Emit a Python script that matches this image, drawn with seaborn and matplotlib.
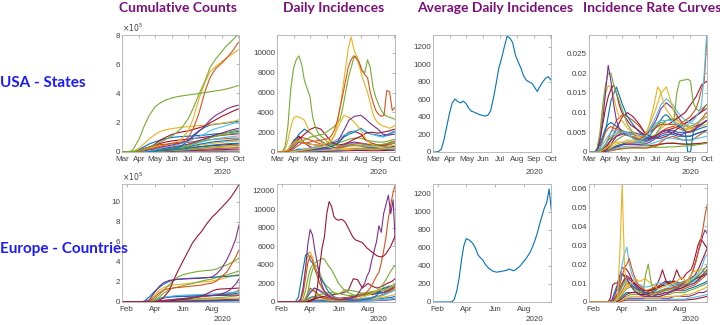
import numpy as np
import pandas as pd
import matplotlib
matplotlib.use('Agg')
import matplotlib.pyplot as plt
import matplotlib.dates as mdates
from matplotlib.ticker import FuncFormatter
import seaborn as sns

# MATLAB default line colours
C = {'b': '#0072BD', 'o': '#D95319', 'y': '#EDB120', 'p': '#7E2F8E',
     'g': '#77AC30', 'c': '#4DBEEE', 'r': '#A2142F'}

# ---------------- date grids ----------------
us_dates = pd.to_datetime(['2020-03-01', '2020-03-10', '2020-03-20', '2020-04-01', '2020-04-10', '2020-04-20',
                           '2020-05-01', '2020-05-10', '2020-05-20', '2020-06-01', '2020-06-10', '2020-06-20',
                           '2020-07-01', '2020-07-10', '2020-07-20', '2020-08-01', '2020-08-10', '2020-08-20',
                           '2020-09-01', '2020-09-10', '2020-09-20', '2020-10-01'])
us_dates5 = pd.date_range('2020-03-01', periods=44, freq='5D')
eu_dates = pd.to_datetime(['2020-01-22', '2020-02-01', '2020-02-10', '2020-02-20', '2020-03-01', '2020-03-10',
                           '2020-03-20', '2020-04-01', '2020-04-10', '2020-04-20', '2020-05-01', '2020-05-10',
                           '2020-05-20', '2020-06-01', '2020-06-10', '2020-06-20', '2020-07-01', '2020-07-10',
                           '2020-07-20', '2020-08-01', '2020-08-10', '2020-08-20', '2020-09-01', '2020-09-10',
                           '2020-09-20', '2020-09-27'])
eu_dates5 = pd.date_range('2020-01-22', periods=51, freq='5D')

# ---------------- USA cumulative counts (x 1e5) ----------------
usc_ca = [0, 0, 0.01, 0.09, 0.2, 0.33, 0.5, 0.67, 0.85, 1.1, 1.35, 1.7, 2.3, 3.0, 3.9, 4.9, 5.8, 6.35, 6.9, 7.3, 7.65, 8.05]
usc_ny = [0, 0.002, 0.1, 0.85, 1.7, 2.5, 3.1, 3.35, 3.55, 3.7, 3.78, 3.84, 3.9, 3.95, 4.0, 4.07, 4.12, 4.18, 4.25, 4.32, 4.42, 4.55]
usc_tx = [0, 0, 0.01, 0.04, 0.11, 0.2, 0.29, 0.38, 0.5, 0.6, 0.65, 0.7, 1.0, 1.6, 2.6, 4.2, 5.1, 5.7, 6.1, 6.45, 6.9, 7.5]
usc_fl = [0, 0, 0.01, 0.07, 0.16, 0.27, 0.35, 0.42, 0.48, 0.57, 0.7, 0.95, 1.45, 2.3, 3.6, 4.8, 5.5, 5.85, 6.2, 6.45, 6.7, 7.0]
usc_nj = [0, 0, 0.02, 0.25, 0.55, 0.9, 1.2, 1.4, 1.52, 1.6, 1.65, 1.7, 1.73, 1.76, 1.8, 1.84, 1.88, 1.92, 1.97, 2.02, 2.08, 2.2]
usc_ga = [0, 0, 0, 0.05, 0.1, 0.17, 0.25, 0.32, 0.4, 0.48, 0.56, 0.65, 0.8, 1.05, 1.4, 1.8, 2.2, 2.5, 2.75, 2.95, 3.1, 3.2]
usc_il = [0, 0, 0, 0.05, 0.15, 0.3, 0.55, 0.8, 1.0, 1.2, 1.3, 1.38, 1.45, 1.55, 1.65, 1.8, 2.0, 2.2, 2.45, 2.6, 2.78, 2.95]
usc_s1 = [0, 0, 0, 0.01, 0.05, 0.1, 0.17, 0.25, 0.33, 0.42, 0.5, 0.6, 0.72, 0.88, 1.05, 1.25, 1.45, 1.6, 1.72, 1.83, 1.94, 2.05]
usc_s2 = [0, 0, 0.01, 0.15, 0.35, 0.55, 0.7, 0.8, 0.9, 1.0, 1.03, 1.06, 1.08, 1.1, 1.13, 1.16, 1.2, 1.24, 1.28, 1.32, 1.36, 1.4]
usc_s3 = [0, 0, 0, 0.01, 0.03, 0.05, 0.08, 0.12, 0.16, 0.2, 0.28, 0.45, 0.8, 1.15, 1.45, 1.7, 1.85, 1.9, 1.95, 1.99, 2.04, 2.1]
usc_s4 = [0, 0, 0, 0.03, 0.07, 0.12, 0.17, 0.22, 0.28, 0.34, 0.4, 0.46, 0.54, 0.64, 0.78, 0.92, 1.05, 1.18, 1.3, 1.42, 1.52, 1.62]
usc_s5 = [0, 0, 0, 0.02, 0.05, 0.09, 0.13, 0.18, 0.23, 0.28, 0.33, 0.39, 0.47, 0.57, 0.7, 0.85, 0.98, 1.1, 1.22, 1.32, 1.42, 1.5]
usc_s6 = [0, 0, 0.01, 0.06, 0.2, 0.35, 0.48, 0.58, 0.68, 0.76, 0.8, 0.84, 0.88, 0.92, 0.97, 1.02, 1.06, 1.1, 1.14, 1.18, 1.21, 1.25]
usc_s7 = [0, 0, 0, 0.01, 0.03, 0.06, 0.1, 0.15, 0.2, 0.25, 0.3, 0.35, 0.42, 0.52, 0.63, 0.75, 0.84, 0.9, 0.96, 1.01, 1.06, 1.1]
usc_s8 = [0, 0, 0.01, 0.1, 0.25, 0.33, 0.42, 0.5, 0.53, 0.57, 0.6, 0.63, 0.66, 0.7, 0.75, 0.8, 0.84, 0.87, 0.9, 0.92, 0.94, 0.96]
usc_s9 = [0, 0, 0, 0.02, 0.05, 0.08, 0.11, 0.14, 0.17, 0.2, 0.24, 0.28, 0.33, 0.39, 0.45, 0.52, 0.57, 0.62, 0.66, 0.69, 0.72, 0.75]
usc_s10 = [0, 0, 0, 0.01, 0.03, 0.05, 0.07, 0.09, 0.12, 0.15, 0.18, 0.21, 0.25, 0.3, 0.35, 0.4, 0.45, 0.49, 0.53, 0.56, 0.58, 0.6]
usc_s11 = [0, 0, 0, 0.01, 0.02, 0.04, 0.06, 0.08, 0.1, 0.12, 0.14, 0.16, 0.19, 0.22, 0.26, 0.3, 0.33, 0.36, 0.39, 0.41, 0.43, 0.45]
usc_s12 = [0, 0, 0, 0.01, 0.02, 0.03, 0.04, 0.05, 0.07, 0.08, 0.1, 0.11, 0.13, 0.15, 0.17, 0.2, 0.22, 0.24, 0.26, 0.27, 0.29, 0.3]
usc_s13 = [0, 0, 0, 0, 0.01, 0.02, 0.03, 0.04, 0.05, 0.06, 0.07, 0.08, 0.09, 0.1, 0.12, 0.13, 0.14, 0.15, 0.16, 0.18, 0.19, 0.2]
usc_s14 = [0, 0, 0, 0, 0.01, 0.01, 0.02, 0.02, 0.03, 0.03, 0.04, 0.05, 0.05, 0.06, 0.07, 0.08, 0.08, 0.09, 0.1, 0.11, 0.11, 0.12]
usc_s15 = [0, 0, 0, 0, 0, 0.01, 0.01, 0.01, 0.01, 0.02, 0.02, 0.02, 0.02, 0.03, 0.03, 0.03, 0.04, 0.04, 0.04, 0.05, 0.05, 0.05]
usc_s16 = [0, 0, 0, 0.01, 0.03, 0.06, 0.09, 0.12, 0.15, 0.19, 0.23, 0.28, 0.35, 0.43, 0.52, 0.6, 0.66, 0.71, 0.75, 0.79, 0.82, 0.85]
usc_s17 = [0, 0, 0, 0.02, 0.04, 0.07, 0.1, 0.13, 0.17, 0.21, 0.26, 0.32, 0.42, 0.55, 0.7, 0.86, 0.98, 1.07, 1.15, 1.21, 1.26, 1.3]
usc_s18 = [0, 0, 0, 0.02, 0.06, 0.12, 0.18, 0.22, 0.25, 0.27, 0.28, 0.29, 0.31, 0.33, 0.36, 0.39, 0.42, 0.45, 0.48, 0.5, 0.53, 0.55]
usc_s19 = [0, 0, 0, 0.01, 0.02, 0.03, 0.05, 0.06, 0.08, 0.1, 0.12, 0.14, 0.16, 0.19, 0.22, 0.25, 0.27, 0.29, 0.31, 0.32, 0.34, 0.35]

# ---------------- USA daily incidences ----------------
usd_ny = [0, 0, 50, 600, 2700, 6300, 8400, 9300, 9700, 8800, 7200, 6400, 5600, 3500, 2500, 1900, 1600, 1400, 1100, 900,
          800, 700, 650, 600, 600, 620, 650, 680, 700, 680, 650, 640, 620, 600, 620, 650, 700, 720, 750, 800, 820, 850, 880, 900]
usd_ca = [0, 0, 10, 80, 200, 400, 700, 900, 1100, 1150, 1200, 1300, 1500, 1550, 1600, 1700, 1750, 1800, 2000, 2200,
          2400, 2600, 2900, 3300, 4500, 6000, 7500, 8500, 9500, 9700, 9000, 8200, 8000, 9300, 8500, 6500, 5500, 4800, 4200, 3800,
          3600, 3500, 3400, 3300]
usd_tx = [0, 0, 0, 20, 60, 150, 300, 500, 700, 900, 900, 950, 1000, 1100, 1100, 1150, 1200, 1250, 1300, 1400,
          1700, 2300, 3200, 4500, 5800, 7200, 8600, 9300, 9700, 9400, 9000, 8200, 7800, 7500, 6000, 5000, 4200, 3800, 3600, 3700,
          6200, 6100, 4200, 4500]
usd_fl = [0, 0, 0, 30, 150, 600, 900, 1100, 1100, 1000, 900, 800, 800, 750, 700, 700, 750, 800, 900, 1100,
          1300, 1700, 2800, 4500, 6500, 8500, 10500, 11600, 10400, 9600, 8700, 7600, 6800, 6000, 4900, 3800, 3200, 2900, 2700, 2600,
          2500, 2400, 2500, 2700]
usd_nj = [0, 0, 10, 300, 1200, 2500, 3400, 3600, 3500, 3400, 3200, 2600, 2000, 1700, 1500, 1200, 1000, 800, 600, 500,
          400, 350, 300, 280, 260, 250, 240, 260, 280, 300, 320, 330, 320, 300, 280, 280, 290, 300, 320, 340, 360, 380, 400, 420]
usd_az = [0, 0, 0, 50, 150, 200, 300, 400, 500, 800, 1200, 2500, 3700, 3500, 3000, 2200, 1300, 800, 600, 500, 550, 700]
usd_ga = [0, 0, 20, 500, 1000, 900, 800, 700, 700, 800, 900, 1100, 2200, 3200, 3600, 3700, 3300, 2800, 2300, 1800, 1700, 1800]
usd_il = [0, 0, 50, 700, 1300, 1800, 2300, 2500, 2300, 1500, 900, 700, 800, 1000, 1300, 1600, 1900, 2000, 1900, 2000, 2100, 2300]
usd_ma = [0, 0, 60, 1000, 1800, 2300, 1900, 1500, 1100, 700, 500, 300, 250, 250, 300, 350, 400, 400, 350, 400, 500, 550]
usd_pa = [0, 0, 80, 900, 1500, 1400, 1200, 1000, 800, 600, 500, 450, 500, 700, 800, 850, 800, 750, 700, 750, 900, 1100]
usd_nc = [0, 0, 20, 100, 150, 250, 400, 500, 600, 800, 1000, 1300, 1700, 1900, 2100, 2300, 2100, 1800, 1600, 1500, 1700, 2000]
usd_tn = [0, 0, 10, 150, 300, 250, 300, 350, 400, 500, 600, 900, 1500, 1800, 2000, 2400, 2000, 1800, 1700, 1600, 1800, 2100]
usd_la = [0, 0, 100, 1200, 1600, 900, 500, 400, 400, 500, 600, 900, 1600, 2000, 2100, 1800, 1200, 900, 700, 600, 500, 550]
usd_s1 = [0, 0, 0, 100, 200, 300, 400, 500, 600, 700, 800, 900, 1100, 1300, 1400, 1400, 1200, 1100, 1000, 1000, 1100, 1300]
usd_s2 = [0, 0, 0, 50, 100, 150, 200, 250, 300, 350, 400, 500, 700, 900, 1000, 900, 800, 700, 650, 700, 800, 900]
usd_s3 = [0, 0, 0, 50, 100, 150, 200, 200, 200, 250, 300, 400, 600, 800, 900, 800, 700, 600, 600, 700, 900, 1100]
usd_s4 = [0, 0, 0, 30, 60, 100, 150, 200, 250, 300, 350, 400, 500, 600, 650, 600, 500, 450, 500, 600, 700, 900]
usd_s5 = [0, 0, 0, 20, 50, 80, 100, 120, 150, 180, 200, 250, 300, 350, 400, 400, 350, 300, 300, 350, 400, 500]
usd_s6 = [0, 0, 0, 10, 30, 50, 70, 90, 110, 130, 150, 180, 220, 260, 300, 300, 280, 260, 250, 260, 280, 300]
usd_s7 = [0, 0, 0, 10, 20, 30, 40, 50, 60, 70, 80, 90, 110, 130, 150, 150, 140, 130, 130, 140, 160, 180]

# ---------------- USA average daily incidences ----------------
usa_avg = [0, 0, 5, 30, 140, 290, 440, 560, 605, 575, 560, 580, 555, 500, 465, 455, 440, 425, 418, 410,
           420, 470, 610, 780, 960, 1070, 1200, 1320, 1300, 1250, 1110, 1030, 960, 870, 820, 800, 785, 740, 690, 750,
           800, 840, 860, 820]

# ---------------- USA incidence rate curves (x 1e-3) ----------------
usr_purple = [0, 0, 0, 0.5, 3, 8, 15, 22, 18, 12, 8, 6, 5, 4.5, 4.2, 4, 3.8, 3.5, 3.2, 3,
              3, 3, 3.2, 3.5, 4, 4.5, 5, 5.5, 5.5, 5.2, 5, 4.8, 4.5, 4.5, 4.5, 4.8, 5, 5.2, 5.5, 6, 6.5, 7, 7.5, 8]
usr_green1 = [0, 0, 0, 1, 5, 12, 17, 20, 20, 17, 15, 13, 11, 9, 7, 6, 5, 4, 3, 2.5,
              2, 1.8, 1.5, 1.3, 1.2, 1.2, 1.2, 1.2, 1.2, 1.3, 1.3, 1.3, 1.4, 1.4, 1.5, 1.5, 1.6, 1.6, 1.7, 1.8, 1.9, 2, 2.1, 2.2]
usr_green2 = [0, 0, 0, 0, 0.5, 1, 2, 3, 3.5, 4, 4.5, 5, 5.5, 5, 4.5, 4, 3.5, 3, 2.8, 3,
              3.5, 4, 5, 6, 6.5, 7, 7.5, 7.5, 8, 8, 8, 8.5, 15, 18, 18.2, 18.3, 18.5, 18, 12.5, 11, 10.5, 11, 11.5, 12]
usr_yellow = [0, 0, 0, 1, 4, 10, 15, 16.8, 16.5, 14, 11, 9, 8, 7, 6, 5.5, 5, 4.5, 4, 3.8,
              4, 5, 7, 10, 13, 16.5, 15.5, 13, 11, 10, 9, 8, 7.5, 7, 6.5, 6, 6, 6, 6.5, 7, 7.5, 8, 8.5, 9]
usr_dkred = [0, 0, 0, 0.5, 3, 7, 11, 14, 16, 17, 15, 12, 10, 9, 8, 7, 6.5, 6, 5.5, 5,
             4.5, 4.5, 5, 5.5, 6, 6.5, 7, 7, 7, 7, 7.5, 8, 8.5, 9, 9.5, 10, 11, 12, 13, 14, 15.5, 17, 17.5, 18]
usr_cyan = [0, 0, 0, 0, 1, 2, 3, 4, 5, 5.5, 5.5, 5, 5, 5, 4.5, 4, 3.5, 3, 3, 3,
            3.5, 4, 5, 6, 7, 7.5, 8, 8, 8, 8, 8, 7.5, 7, 7, 6.5, 6.5, 7, 7.5, 8, 9, 10, 12, 20, 31]
usr_red = [0, 0, 0, 0, 1, 3, 5, 6, 6.5, 6, 6, 5.5, 5, 5, 4.5, 4, 4, 3.5, 3.5, 3.5,
           4, 4.5, 5, 5.5, 6, 6.5, 7, 7, 7, 7, 7, 7, 7, 7, 7.5, 8, 8.5, 9, 10, 11, 13, 16, 18, 29]
usr_blue = [0, 0, 0, 0.5, 2, 4, 6, 7, 7.5, 7, 6.5, 6, 5.5, 5, 4.5, 4, 3.5, 3.5, 3, 3,
            3, 3.5, 4, 5, 6, 7, 8, 9, 9.5, 9, 8, 7.5, 7, 6.5, 6, 5.5, 0, 0, 5, 6, 6.5, 7, 7.5, 8]
usr_m1 = [0, 0, 0.5, 6, 13, 16.5, 12, 9, 7, 5, 4, 3.5, 3.5, 4, 4.5, 4.5, 4, 4, 4, 4.5, 5, 5.5]
usr_m2 = [0, 0, 0, 1, 2, 2.5, 2.5, 2.5, 2.5, 3, 4, 7, 11, 15, 16.5, 11, 8, 7, 6, 6, 6.5, 7]
usr_m3 = [0, 0, 0.2, 2, 4, 5, 5.5, 5, 4.5, 4, 4.5, 6, 9, 12, 13.5, 12, 10, 8.5, 7.5, 7, 8, 9]
usr_m4 = [0, 0, 0, 1.5, 3, 4, 4.5, 5, 5, 4.5, 4.5, 5.5, 8, 11, 12.5, 11, 9, 7, 6, 6.5, 7, 8]
usr_m5 = [0, 0, 0, 1, 3, 6, 9, 10, 9, 7, 5, 4, 3.5, 3.5, 4, 5, 6, 7, 8, 9, 10, 12]
usr_m6 = [0, 0, 0.2, 2, 5, 8, 9.5, 9, 8, 6.5, 5, 4, 4, 5, 6, 6.5, 6, 5.5, 5, 6, 8, 10]
usr_m7 = [0, 0, 0, 0.5, 1.5, 3, 4, 4.5, 4.5, 4, 3.5, 3.5, 4.5, 6.5, 8, 8.5, 8, 7, 6.5, 7, 8, 9]
usr_m8 = [0, 0, 0, 0.5, 1, 2, 2.5, 3, 3, 3, 3, 3.5, 4.5, 6, 7, 7, 6.5, 6, 5.5, 6, 7, 8]
usr_m9 = [0, 0, 0, 0.3, 1, 1.5, 2, 2.5, 2.5, 2.5, 2.5, 3, 4, 5, 5.5, 5.5, 5, 5, 5, 5.5, 6, 6.5]
usr_m10 = [0, 0, 0, 0.5, 2, 4, 5, 5, 4.5, 4, 3.5, 3.5, 4, 5, 5.5, 6, 6.5, 7, 8, 9, 10, 11]
usr_m11 = [0, 0, 0, 0.2, 0.8, 1.5, 2, 2, 2, 2, 2, 2.5, 3.5, 4.5, 5, 5, 4.5, 4, 4, 4.5, 5, 5.5]
usr_m12 = [0, 0, 0, 0.2, 0.5, 1, 1.3, 1.5, 1.5, 1.5, 1.6, 2, 2.5, 3, 3.5, 3.5, 3.2, 3, 3, 3.3, 3.6, 4]
usr_m13 = [0, 0, 0, 0.1, 0.4, 0.7, 1, 1, 1, 1, 1, 1.2, 1.5, 2, 2.2, 2.3, 2.2, 2, 2, 2, 2.1, 2.3]
usr_m14 = [0, 0, 0, 0.2, 0.6, 1.2, 1.8, 2, 2, 1.8, 1.6, 1.6, 1.8, 2, 2.2, 2.2, 2.1, 2, 2, 2.1, 2.2, 2.4]
usr_m15 = [0, 0, 0, 0.1, 0.3, 0.6, 0.8, 1, 1.1, 1.1, 1, 1.1, 1.5, 2.5, 3.5, 4, 3.5, 3, 3, 3.5, 4.5, 5.5]

# ---------------- Europe cumulative counts (x 1e5) ----------------
euc_russia = [0, 0, 0, 0, 0, 0, 0, 0.03, 0.12, 0.5, 1.1, 2.1, 3.1, 4.2, 5.0, 5.9, 6.6, 7.1, 7.8, 8.5, 8.9, 9.4, 10.0, 10.5, 11.2, 11.75]
euc_spain = [0, 0, 0, 0, 0, 0.02, 0.2, 1.0, 1.55, 1.95, 2.15, 2.22, 2.27, 2.3, 2.32, 2.34, 2.36, 2.38, 2.42, 2.5, 2.8, 3.3, 4.2, 5.1, 6.3, 7.7]
euc_italy = [0, 0, 0, 0, 0.01, 0.1, 0.5, 1.1, 1.45, 1.8, 2.05, 2.2, 2.27, 2.33, 2.35, 2.38, 2.4, 2.42, 2.44, 2.47, 2.5, 2.53, 2.56, 2.6, 2.63, 2.66]
euc_uk = [0, 0, 0, 0, 0, 0.01, 0.05, 0.3, 0.7, 1.2, 1.7, 2.1, 2.5, 2.75, 2.85, 2.95, 3.05, 3.1, 3.15, 3.2, 3.3, 3.5, 3.7, 3.9, 4.15, 4.4]
euc_france = [0, 0, 0, 0, 0, 0.01, 0.1, 0.5, 0.9, 1.2, 1.35, 1.4, 1.45, 1.5, 1.55, 1.6, 1.65, 1.7, 1.8, 1.9, 2.1, 2.5, 3.0, 3.7, 4.5, 5.2]
euc_germany = [0, 0, 0, 0, 0, 0.01, 0.15, 0.7, 1.15, 1.45, 1.6, 1.7, 1.75, 1.8, 1.85, 1.9, 1.95, 2.0, 2.05, 2.1, 2.2, 2.3, 2.45, 2.6, 2.7, 2.8]
euc_turkey = [0, 0, 0, 0, 0, 0, 0, 0.15, 0.45, 0.9, 1.2, 1.4, 1.5, 1.65, 1.75, 1.85, 2.0, 2.1, 2.2, 2.3, 2.45, 2.6, 2.7, 2.85, 3.0, 3.1]
euc_p2 = [0, 0, 0, 0, 0, 0, 0.01, 0.05, 0.1, 0.15, 0.2, 0.25, 0.3, 0.35, 0.4, 0.45, 0.5, 0.55, 0.6, 0.65, 0.7, 0.8, 1.0, 1.3, 1.8, 2.3]
euc_r2 = [0, 0, 0, 0, 0, 0, 0, 0.01, 0.03, 0.06, 0.1, 0.15, 0.2, 0.25, 0.3, 0.4, 0.5, 0.6, 0.8, 1.1, 1.25, 1.3, 1.33, 1.35, 1.37, 1.4]
euc_c1 = [0, 0, 0, 0, 0, 0, 0.02, 0.15, 0.3, 0.45, 0.55, 0.6, 0.65, 0.68, 0.7, 0.72, 0.74, 0.76, 0.78, 0.8, 0.82, 0.85, 0.9, 0.95, 1.0, 1.05]
euc_b2 = [0, 0, 0, 0, 0, 0.01, 0.05, 0.2, 0.35, 0.45, 0.5, 0.52, 0.54, 0.56, 0.58, 0.6, 0.62, 0.64, 0.66, 0.68, 0.7, 0.72, 0.75, 0.8, 0.85, 0.9]
euc_r3 = [0, 0, 0, 0, 0, 0, 0.01, 0.1, 0.25, 0.4, 0.5, 0.55, 0.57, 0.58, 0.59, 0.6, 0.61, 0.62, 0.63, 0.64, 0.65, 0.66, 0.67, 0.68, 0.69, 0.7]
euc_o3 = [0, 0, 0, 0, 0, 0, 0.01, 0.05, 0.1, 0.15, 0.2, 0.25, 0.3, 0.35, 0.4, 0.45, 0.5, 0.55, 0.6, 0.65, 0.7, 0.75, 0.8, 0.9, 1.0, 1.2]
euc_g3 = [0, 0, 0, 0, 0, 0, 0.01, 0.05, 0.1, 0.15, 0.2, 0.22, 0.24, 0.26, 0.28, 0.3, 0.32, 0.35, 0.38, 0.4, 0.43, 0.46, 0.5, 0.55, 0.6, 0.65]
euc_y3 = [0, 0, 0, 0, 0, 0, 0.01, 0.04, 0.08, 0.12, 0.15, 0.17, 0.19, 0.21, 0.23, 0.25, 0.27, 0.28, 0.3, 0.31, 0.32, 0.34, 0.35, 0.37, 0.39, 0.4]
euc_p3 = [0, 0, 0, 0, 0, 0, 0.01, 0.03, 0.06, 0.09, 0.11, 0.13, 0.14, 0.15, 0.16, 0.17, 0.18, 0.19, 0.2, 0.21, 0.22, 0.23, 0.25, 0.27, 0.29, 0.3]
euc_b3 = [0, 0, 0, 0, 0, 0, 0, 0.01, 0.03, 0.05, 0.07, 0.08, 0.09, 0.1, 0.11, 0.12, 0.12, 0.13, 0.14, 0.15, 0.15, 0.16, 0.17, 0.18, 0.19, 0.2]
euc_r4 = [0, 0, 0, 0, 0, 0, 0, 0.01, 0.02, 0.03, 0.04, 0.05, 0.06, 0.07, 0.08, 0.09, 0.09, 0.1, 0.1, 0.11, 0.11, 0.12, 0.13, 0.13, 0.14, 0.15]
euc_c3 = [0, 0, 0, 0, 0, 0, 0, 0, 0.01, 0.02, 0.03, 0.03, 0.04, 0.04, 0.05, 0.05, 0.06, 0.06, 0.07, 0.07, 0.08, 0.08, 0.09, 0.09, 0.1, 0.1]

# ---------------- Europe daily incidences ----------------
eud_russia = [0] * 14 + [50, 200, 500, 1500, 3800, 5800, 7000, 9500, 10800, 10300, 9200, 8900, 8800, 8900, 8800, 8500, 8000,
                         7500, 7000, 6700, 6600, 6500, 6400, 6100, 5800, 5600, 5400, 5200, 5000, 4900, 4850, 4950, 5200,
                         5600, 6000, 6600, 7200]
eud_spain = [0] * 9 + [50, 300, 1500, 3500, 6200, 7800, 7200, 5500, 4200, 2800, 1800, 1200, 900, 600, 500, 400, 300, 250,
                       250, 300, 350, 350, 400, 500, 600, 800, 1200, 1600, 2000, 2800, 3300, 4500, 5500, 6500, 8200, 7500,
                       9500, 10500, 11500, 9500, 11000, 6000]
eud_france = [0] * 9 + [20, 200, 900, 2500, 4200, 5000, 4500, 3500, 2800, 2000, 1500, 1100, 900, 700, 500, 400, 350, 300,
                        300, 350, 400, 450, 500, 550, 550, 600, 700, 800, 900, 1100, 1400, 1800, 2300, 2800, 3200, 4200,
                        5500, 7000, 9000, 10500, 11800, 12700]
eud_italy = [0] * 8 + [100, 500, 2000, 3500, 5000, 5300, 4500, 4200, 3800, 3200, 2700, 2300, 1900, 1400, 1000, 800, 600,
                       450, 350, 300, 250, 250, 220, 200, 200, 200, 200, 220, 250, 280, 300, 350, 450, 550, 700, 1000,
                       1300, 1500, 1500, 1600, 1700, 1800, 1900]
eud_germany = [0] * 9 + [50, 400, 1500, 3500, 5000, 5400, 4800, 3800, 2800, 2000, 1500, 1100, 900, 700, 600, 500, 400, 400,
                         350, 350, 400, 450, 450, 450, 400, 400, 420, 500, 600, 700, 800, 900, 1000, 1200, 1300, 1300,
                         1250, 1300, 1400, 1600, 1800, 2000]
eud_uk = [0] * 10 + [50, 300, 1200, 2500, 3500, 4000, 4200, 4400, 4500, 4700, 4600, 4200, 3800, 3500, 3000, 2500, 2000, 1700,
                     1400, 1200, 1000, 900, 800, 700, 650, 650, 700, 750, 800, 850, 950, 1050, 1200, 1400, 1700, 2000,
                     2400, 2900, 3300, 3700, 4000]
eud_turkey = [0] * 11 + [5, 200, 1000, 2500, 3500, 4000, 3800, 3200, 2500, 2000, 1700, 1500, 1200, 1000, 900, 900, 1000,
                         1200, 1300, 1300, 1250, 1200, 1150, 1100, 1000, 950, 950, 1000, 1050, 1100, 1150, 1200, 1300, 1400,
                         1500, 1600, 1700, 1700, 1750, 1800]
eud_r2 = [0, 0, 0, 0, 0, 0, 0, 100, 300, 500, 600, 700, 800, 900, 1000, 1200, 2500, 2400, 1500, 2000, 1700, 1500, 1700, 2000, 2200, 2500]
eud_p2 = [0, 0, 0, 0, 0, 0, 50, 1000, 1500, 1300, 900, 600, 500, 400, 350, 300, 400, 600, 800, 900, 1000, 1100, 1200, 1300, 1500, 1800]
eud_c2 = [0, 0, 0, 0, 0, 0, 100, 1200, 1500, 1200, 800, 600, 500, 400, 350, 300, 300, 350, 400, 450, 500, 600, 700, 900, 1100, 1300]
eud_o2 = [0, 0, 0, 0, 0, 0, 200, 1500, 1200, 700, 400, 300, 250, 200, 200, 220, 250, 300, 350, 400, 500, 600, 800, 1000, 1300, 1600]
eud_y2 = [0, 0, 0, 0, 0, 0, 100, 1300, 1100, 800, 500, 300, 200, 150, 150, 200, 250, 300, 350, 400, 450, 550, 700, 900, 1200, 1500]
eud_b2 = [0, 0, 0, 0, 0, 0, 50, 500, 600, 500, 400, 300, 300, 300, 300, 350, 450, 600, 700, 800, 900, 1000, 1000, 1100, 1200, 1300]
eud_g3 = [0, 0, 0, 0, 0, 0, 50, 400, 600, 800, 900, 1000, 1000, 900, 800, 700, 700, 800, 900, 1000, 1100, 1200, 1300, 1400, 1600, 1800]
eud_r3 = [0, 0, 0, 0, 0, 0, 20, 200, 400, 500, 500, 450, 400, 400, 450, 500, 600, 700, 800, 800, 800, 900, 1000, 1200, 1400, 1600]
eud_y3 = [0, 0, 0, 0, 0, 0, 0, 200, 300, 300, 250, 200, 150, 150, 150, 200, 250, 300, 300, 300, 350, 400, 500, 600, 700, 800]
eud_b3 = [0, 0, 0, 0, 0, 0, 20, 100, 200, 200, 150, 120, 100, 100, 120, 150, 200, 250, 250, 250, 300, 350, 400, 450, 500, 600]
eud_c3 = [0, 0, 0, 0, 0, 0, 10, 50, 100, 120, 120, 100, 100, 100, 100, 120, 150, 150, 150, 150, 150, 200, 250, 300, 350, 400]
eud_p3 = [0, 0, 0, 0, 0, 0, 0, 30, 60, 80, 80, 70, 60, 60, 60, 70, 80, 90, 100, 110, 120, 150, 180, 200, 250, 300]

# ---------------- Europe average daily incidences ----------------
eu_avg = [0] * 8 + [2, 30, 120, 260, 460, 620, 700, 690, 670, 640, 590, 520, 490, 465, 420, 385, 365, 345, 335, 330,
                    335, 340, 345, 350, 365, 355, 345, 360, 380, 405, 440, 470, 510, 550, 610, 680, 760, 860, 950, 1040,
                    1100, 1250, 1000]

# ---------------- Europe incidence rate curves (x 1e-3) ----------------
eur_yellow = [0] * 12 + [2, 25, 62, 18, 8, 9, 10, 11, 12, 11, 11, 12, 12, 11, 10, 9, 8, 7, 7, 8, 8, 9, 9, 10, 10, 11, 12,
                         13, 12, 11, 12, 14, 16, 16.5, 16, 17, 17.5, 18, 18]
eur_cyan = [0] * 11 + [0.5, 3, 10, 20, 26, 29, 20, 15, 12, 10, 9, 9, 8, 8, 8, 8.5, 9, 9.5, 10, 10, 10, 9.5, 9, 9, 9, 9,
                       9.5, 10, 10.5, 11, 11, 11.5, 12, 13, 14, 15, 17, 20, 24, 25]
eur_orange = [0] * 10 + [0.5, 2, 5, 9, 14, 18, 20, 23, 18, 14, 11, 9, 8, 7, 6, 5.5, 5, 5, 5, 5, 5.5, 6, 6.5, 7, 7, 7.5,
                         8, 8.5, 9, 9.5, 10, 11, 12, 14, 17, 21, 26, 32, 38, 46, 52]
eur_dkred = [0] * 9 + [2, 9, 10, 10, 14, 18, 18, 17, 15, 12, 10, 9, 8, 7, 6, 6, 6, 6.5, 7, 8, 10, 13, 17, 13, 10, 9, 10,
                       13, 17, 14, 12, 13, 15, 16, 17, 20, 25, 30, 33, 32, 30, 28]
eur_green = [0] * 11 + [1, 3, 6, 9, 11, 10, 9, 8, 7, 6, 5, 5, 7, 15, 20, 12, 6, 5, 5, 5, 5.5, 6, 6, 6.5, 7, 7, 7.5, 8,
                        8.5, 9, 9.5, 10, 11, 12, 13, 14, 15, 16, 16, 16]
eur_purple = [0] * 10 + [1, 4, 8, 12, 15, 14, 12, 10, 8, 6, 5, 4, 3.5, 3, 3, 3, 3, 3, 3.5, 4, 4, 4.5, 5, 5, 5.5, 6, 6.5,
                         7, 8, 9, 10, 11, 12, 14, 17, 21, 26, 30, 35, 38, 36]
eur_m1 = [0, 0, 0, 0, 0, 1, 8, 15, 12, 9, 7, 6, 5, 5, 6, 8, 10, 11, 10, 9, 9, 10, 12, 14, 17, 19]
eur_m2 = [0, 0, 0, 0, 0, 0, 3, 10, 14, 12, 9, 7, 6, 6, 7, 8, 9, 10, 11, 10, 11, 12, 14, 18, 24, 28]
eur_m3 = [0, 0, 0, 0, 0, 0, 2, 8, 11, 10, 8, 6, 5, 5, 5, 6, 7, 8, 9, 9, 9, 10, 11, 12, 14, 16]
eur_m4 = [0, 0, 0, 0, 0, 0, 1, 5, 8, 8, 7, 6, 6, 7, 8, 9, 10, 11, 11, 10, 10, 11, 12, 13, 15, 17]
eur_m5 = [0, 0, 0, 0, 0, 0, 1, 4, 7, 8, 7, 6, 5, 4, 4, 5, 6, 7, 8, 8, 8, 9, 10, 12, 14, 15]
eur_m6 = [0, 0, 0, 0, 0, 0, 2, 9, 13, 11, 8, 6, 4, 3, 3, 3, 4, 5, 6, 7, 8, 9, 10, 12, 15, 17]
eur_m7 = [0, 0, 0, 0, 0, 0, 1, 6, 10, 9, 7, 5, 4, 4, 4, 4, 5, 5, 6, 6, 7, 8, 9, 11, 13, 15]
eur_m8 = [0, 0, 0, 0, 0, 0, 1, 3, 5, 5, 5, 4, 4, 4, 5, 6, 7, 7, 7, 6, 6, 7, 8, 9, 10, 11]
eur_m9 = [0, 0, 0, 0, 0, 0, 0, 2, 4, 5, 5, 4, 4, 5, 7, 9, 11, 10, 8, 7, 8, 10, 12, 13, 14, 15]
eur_m10 = [0, 0, 0, 0, 0, 0, 0, 2, 3, 4, 4, 4, 3, 3, 3, 3, 4, 4, 5, 5, 5, 6, 7, 8, 9, 10]
eur_m11 = [0, 0, 0, 0, 0, 0, 0, 1, 2, 3, 3, 3, 2, 2, 2, 2, 3, 3, 3, 3, 4, 4, 5, 6, 7, 8]
eur_m12 = [0, 0, 0, 0, 0, 0, 0, 1, 2, 2, 2, 2, 2, 2, 2, 2, 2, 2, 3, 3, 3, 3, 4, 5, 5, 6]
eur_m13 = [0, 0, 0, 0, 0, 0, 0, 1, 1.5, 1.5, 1.5, 1.2, 1, 1, 1, 1, 1.2, 1.5, 1.5, 1.5, 1.5, 2, 2.5, 3, 3.5, 4]
eur_m14 = [0, 0, 0, 0, 0, 0, 0, 0.5, 1, 1, 1, 1, 0.8, 0.8, 0.8, 0.8, 1, 1, 1, 1, 1, 1.2, 1.5, 2, 2.5, 3]

# ---------------- which series go in which panel (drawn in this order) ----------------
U, U5, E, E5 = us_dates, us_dates5, eu_dates, eu_dates5
panels = {
    (0, 0): [(U, usc_s15, 'o'), (U, usc_s14, 'c'), (U, usc_s13, 'r'), (U, usc_s12, 'p'), (U, usc_s19, 'y'),
             (U, usc_s11, 'g'), (U, usc_s18, 'r'), (U, usc_s10, 'b'), (U, usc_s9, 'y'), (U, usc_s16, 'b'),
             (U, usc_s8, 'o'), (U, usc_s7, 'c'), (U, usc_s6, 'r'), (U, usc_s17, 'g'), (U, usc_s2, 'b'),
             (U, usc_s5, 'g'), (U, usc_s4, 'p'), (U, usc_s3, 'b'), (U, usc_s1, 'c'), (U, usc_nj, 'y'),
             (U, usc_il, 'r'), (U, usc_ga, 'p'), (U, usc_fl, 'y'), (U, usc_tx, 'o'), (U, usc_ny, 'g'), (U, usc_ca, 'g')],
    (0, 1): [(U, usd_s7, 'r'), (U, usd_s6, 'b'), (U, usd_s5, 'y'), (U, usd_s4, 'o'), (U, usd_s3, 'c'),
             (U, usd_s2, 'p'), (U, usd_s1, 'g'), (U, usd_pa, 'o'), (U, usd_la, 'r'), (U, usd_tn, 'b'),
             (U, usd_nc, 'c'), (U, usd_ma, 'b'), (U, usd_il, 'r'), (U, usd_az, 'y'), (U, usd_ga, 'p'),
             (U5, usd_nj, 'y'), (U5, usd_ny, 'g'), (U5, usd_ca, 'g'), (U5, usd_fl, 'y'), (U5, usd_tx, 'o')],
    (0, 2): [(U5, usa_avg, 'b')],
    (0, 3): [(U, usr_m13, 'g'), (U, usr_m14, 'r'), (U, usr_m15, 'o'), (U, usr_m12, 'c'), (U, usr_m11, 'p'),
             (U, usr_m9, 'b'), (U, usr_m8, 'y'), (U, usr_m7, 'g'), (U, usr_m10, 'r'), (U, usr_m6, 'o'),
             (U, usr_m5, 'r'), (U, usr_m4, 'p'), (U, usr_m3, 'c'), (U, usr_m2, 'y'), (U, usr_m1, 'b'),
             (U5, usr_blue, 'b'), (U5, usr_yellow, 'y'), (U5, usr_dkred, 'r'), (U5, usr_green1, 'g'),
             (U5, usr_purple, 'p'), (U5, usr_green2, 'g'), (U5, usr_red, 'o'), (U5, usr_cyan, 'c')],
    (1, 0): [(E, euc_c3, 'c'), (E, euc_r4, 'r'), (E, euc_b3, 'b'), (E, euc_p3, 'p'), (E, euc_y3, 'y'),
             (E, euc_g3, 'g'), (E, euc_o3, 'o'), (E, euc_r3, 'r'), (E, euc_b2, 'b'), (E, euc_c1, 'c'),
             (E, euc_r2, 'r'), (E, euc_p2, 'p'), (E, euc_germany, 'y'), (E, euc_turkey, 'g'), (E, euc_italy, 'b'),
             (E, euc_uk, 'g'), (E, euc_france, 'o'), (E, euc_spain, 'p'), (E, euc_russia, 'r')],
    (1, 1): [(E, eud_p3, 'p'), (E, eud_c3, 'c'), (E, eud_b3, 'b'), (E, eud_y3, 'y'), (E, eud_r3, 'r'),
             (E, eud_b2, 'b'), (E, eud_y2, 'y'), (E, eud_o2, 'o'), (E, eud_c2, 'c'), (E, eud_p2, 'p'),
             (E, eud_g3, 'g'), (E, eud_r2, 'r'), (E5, eud_turkey, 'g'), (E5, eud_uk, 'g'), (E5, eud_italy, 'b'),
             (E5, eud_germany, 'y'), (E5, eud_france, 'o'), (E5, eud_spain, 'p'), (E5, eud_russia, 'r')],
    (1, 2): [(E5, eu_avg, 'b')],
    (1, 3): [(E, eur_m14, 'r'), (E, eur_m13, 'c'), (E, eur_m12, 'p'), (E, eur_m11, 'y'), (E, eur_m10, 'g'),
             (E, eur_m8, 'b'), (E, eur_m7, 'o'), (E, eur_m5, 'g'), (E, eur_m4, 'y'), (E, eur_m3, 'c'),
             (E, eur_m6, 'p'), (E, eur_m9, 'r'), (E, eur_m1, 'b'), (E, eur_m2, 'r'),
             (E5, eur_green, 'g'), (E5, eur_dkred, 'r'), (E5, eur_purple, 'p'), (E5, eur_cyan, 'c'),
             (E5, eur_orange, 'o'), (E5, eur_yellow, 'y')],
}
scales = {0: 1, 1: 1, 2: 1, 3: 1e-3}

titles = ['Cumulative Counts', 'Daily Incidences', 'Average Daily Incidences', 'Incidence Rate Curves']
title_x = [178, 334, 495, 652]
row_labels = ['USA - States', 'Europe - Countries']

ylims = {(0, 0): (0, 8), (0, 1): (0, 11800), (0, 2): (0, 1335), (0, 3): (0, 0.0297),
         (1, 0): (0, 11.8), (1, 1): (0, 12700), (1, 2): (0, 1305), (1, 3): (0, 0.0623)}
yticks = {(0, 0): [0, 2, 4, 6, 8], (0, 1): [0, 2000, 4000, 6000, 8000, 10000],
          (0, 2): [0, 200, 400, 600, 800, 1000, 1200], (0, 3): [0, 0.005, 0.01, 0.015, 0.02, 0.025],
          (1, 0): [0, 2, 4, 6, 8, 10], (1, 1): [0, 2000, 4000, 6000, 8000, 10000, 12000],
          (1, 2): [0, 200, 400, 600, 800, 1000, 1200], (1, 3): [0, 0.01, 0.02, 0.03, 0.04, 0.05, 0.06]}
xlims = [(pd.Timestamp('2020-03-01'), pd.Timestamp('2020-10-02')),
         (pd.Timestamp('2020-01-22'), pd.Timestamp('2020-09-27'))]

# ---------------- figure ----------------
sns.set_style('white')
plt.rcParams['font.family'] = ['Liberation Sans', 'DejaVu Sans']
fig = plt.figure(figsize=(7.2, 3.25), dpi=100)

W, H = 720, 325
col_left = [122, 277, 433, 589]
col_w = [117, 118, 118, 118]
row_top = [35, 184]
row_h = [117, 118]
xpad = [3.2, 2.6]
year_off = [-15, -12.8]

for (r, c), series in panels.items():
    ax = fig.add_axes([col_left[c] / W, 1 - (row_top[r] + row_h[r]) / H, col_w[c] / W, row_h[r] / H])
    for d, v, ck in series:
        sns.lineplot(x=d, y=np.asarray(v, dtype=float) * scales[c], ax=ax, color=C[ck],
                     linewidth=0.8, legend=False)
    ax.set_xlim(*xlims[r])
    ax.set_ylim(*ylims[(r, c)])
    ax.set_yticks(yticks[(r, c)])
    ax.yaxis.set_major_formatter(FuncFormatter(lambda v, p: f'{v:g}'))
    if r == 0:
        ax.xaxis.set_major_locator(mdates.MonthLocator())
    else:
        ax.xaxis.set_major_locator(mdates.MonthLocator(bymonth=[2, 4, 6, 8]))
    ax.xaxis.set_major_formatter(mdates.DateFormatter('%b'))
    ax.set_xlabel('')
    ax.set_ylabel('')
    ax.tick_params(direction='in', length=2, width=0.5, color='#999999', labelsize=5.8,
                   labelcolor='#404040', pad=1.5, top=True, right=True)
    ax.tick_params(axis='x', pad=xpad[r])
    for s in ax.spines.values():
        s.set_color('#b0b0b0')
        s.set_linewidth(0.6)
    ax.annotate('2020', xy=(0.86, 0), xycoords='axes fraction', xytext=(0, year_off[r]),
                textcoords='offset points', ha='center', va='center', fontsize=5.8, color='#404040')
    if c == 0:
        ax.text(0, 1.01, r'$\times10^5$', transform=ax.transAxes, fontsize=5.5, color='#404040',
                ha='left', va='bottom')

for t, x in zip(titles, title_x):
    fig.text(x / W, 1 - 8 / H, t, ha='center', va='center', fontsize=10, fontweight='bold',
             family=['Lato', 'DejaVu Sans'], color='#7a0f7a')

fig.text(0.0, 1 - 83 / H, row_labels[0], ha='left', va='center', fontsize=11, fontweight='bold',
         family=['Lato', 'DejaVu Sans'], color='#1a1aff')
fig.text(0.0, 1 - 249 / H, row_labels[1], ha='left', va='center', fontsize=11, fontweight='bold',
         family=['Lato', 'DejaVu Sans'], color='#1a1aff', zorder=10)

fig.savefig('out.png', dpi=100)
